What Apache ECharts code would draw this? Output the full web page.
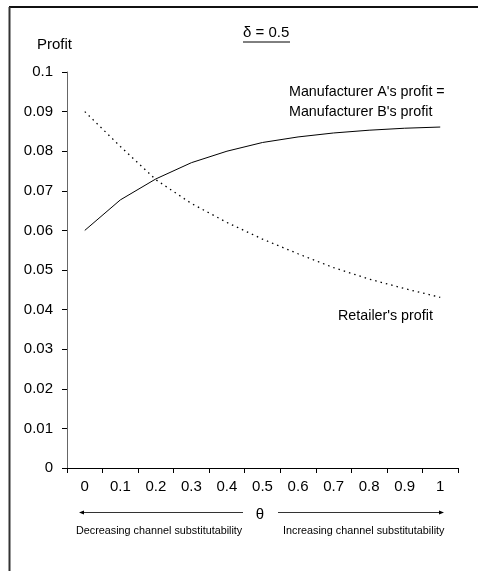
<!DOCTYPE html>
<html>
<head>
<meta charset="utf-8">
<script src="https://cdn.jsdelivr.net/npm/echarts@6/dist/echarts.min.js"></script>
<style>
  html, body { margin: 0; padding: 0; background: #fff; }
  #chart { width: 478px; height: 571px; }
</style>
</head>
<body>
<div id="chart"></div>
<script>
// theta values (x axis)
var thetaLabels = ['0', '0.1', '0.2', '0.3', '0.4', '0.5', '0.6', '0.7', '0.8', '0.9', '1'];
// manufacturer A = manufacturer B profit (solid)
var manufacturerProfit = [0.0600, 0.0677, 0.0730, 0.0771, 0.0800, 0.0822, 0.0836, 0.0846, 0.0853, 0.0858, 0.0861];
// retailer profit (dotted)
var retailerProfit = [0.0900, 0.0812, 0.0728, 0.0668, 0.0620, 0.0578, 0.0541, 0.0506, 0.0477, 0.0453, 0.0431];

var font = 'Liberation Sans, Arial, sans-serif';
var myChart = echarts.init(document.getElementById('chart'));

function txt(x, y, s, size, align) {
    return {
        type: 'text', x: x, y: y, silent: true,
        style: { text: s, fill: '#000', font: size + 'px ' + font, textAlign: align || 'left', textVerticalAlign: 'middle' }
    };
}

var option = {
    animation: false,
    backgroundColor: '#fff',
    grid: { left: 67, right: 20, top: 72, bottom: 103 },
    xAxis: {
        type: 'category',
        data: thetaLabels,
        boundaryGap: true,
        axisLine: { lineStyle: { color: '#000', width: 1 } },
        axisTick: { show: true, length: 5, lineStyle: { color: '#000' } },
        axisLabel: { color: '#000', fontSize: 15, fontFamily: font, margin: 11 },
        splitLine: { show: false }
    },
    yAxis: {
        type: 'value',
        min: 0, max: 0.1, interval: 0.01,
        axisLine: { show: true, lineStyle: { color: '#666', width: 1 } },
        axisTick: { show: true, length: 5, lineStyle: { color: '#000' } },
        axisLabel: { color: '#000', fontSize: 15, fontFamily: font, margin: 14 },
        splitLine: { show: false }
    },
    series: [{
        name: "Manufacturer profit",
        type: 'line',
        data: manufacturerProfit,
        symbol: 'none',
        lineStyle: { color: '#000', width: 1 }
    }, {
        name: "Retailer's profit",
        type: 'line',
        data: retailerProfit,
        symbol: 'none',
        lineStyle: { color: '#000', width: 1.3, type: [1.5, 4] }
    }],
    graphic: [
        // outer frame
        { type: 'line', silent: true, shape: { x1: 9, y1: 7, x2: 478, y2: 7 }, style: { stroke: '#111', lineWidth: 2 } },
        { type: 'line', silent: true, shape: { x1: 9.5, y1: 7, x2: 9.5, y2: 571 }, style: { stroke: '#333', lineWidth: 2 } },
        txt(37, 45, 'Profit', 15),
        txt(243, 33, 'δ = 0.5', 15),
        { type: 'line', silent: true, shape: { x1: 243, y1: 42, x2: 290, y2: 42 }, style: { stroke: '#000', lineWidth: 1 } },
        txt(289, 92, "Manufacturer A's profit =", 14.3),
        txt(289, 112, "Manufacturer B's profit", 14.3),
        txt(338, 316, "Retailer's profit", 14.3),
        txt(260, 515, 'θ', 15, 'center'),
        // arrows
        { type: 'line', silent: true, shape: { x1: 82, y1: 512.5, x2: 243, y2: 512.5 }, style: { stroke: '#333', lineWidth: 1.2 } },
        { type: 'polygon', silent: true, shape: { points: [[79, 512.5], [84, 510.5], [84, 514.5]] }, style: { fill: '#000' } },
        { type: 'line', silent: true, shape: { x1: 278, y1: 512.5, x2: 440, y2: 512.5 }, style: { stroke: '#333', lineWidth: 1.2 } },
        { type: 'polygon', silent: true, shape: { points: [[444, 512.5], [439, 510.5], [439, 514.5]] }, style: { fill: '#000' } },
        txt(76, 531, 'Decreasing channel substitutability', 10.8),
        txt(283, 531, 'Increasing channel substitutability', 10.8)
    ]
};
myChart.setOption(option);
</script>
</body>
</html>
